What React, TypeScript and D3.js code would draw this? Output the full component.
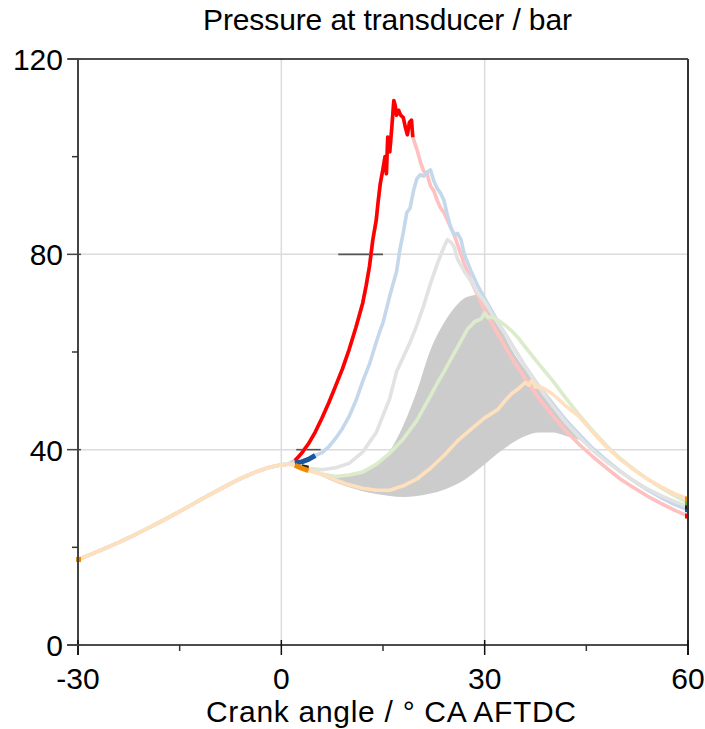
import React from "react";
import * as d3 from "d3";

const W = 705;
const H = 729;

// Axis configuration
const xDomain: [number, number] = [-30, 60];
const yDomain: [number, number] = [0, 120];
const xTicks = [-30, 0, 30, 60];
const xMinorTicks = [-15, 15, 45];
const yTicks = [0, 40, 80, 120];
const yMinorTicks = [20, 60, 100];
const gridX = [0, 30];
const gridY = [40, 80];

// Shared compression stroke (crank angle °, pressure bar)
const compression: [number, number][] = [
  [-30, 17.5], [-28, 18.6], [-26, 19.8], [-24, 21.0], [-22, 22.3], [-20, 23.7],
  [-18, 25.1], [-16, 26.6], [-14, 28.1], [-12, 29.7], [-10, 31.2], [-8, 32.7],
  [-6, 34.1], [-4, 35.3], [-2, 36.3], [0, 36.9], [1, 37.0],
];

// Cycle-to-cycle envelope (grey band)
const bandAngles = [2, 4, 6, 8, 10, 12, 14, 16, 18, 20, 22, 24, 26, 27, 28, 29, 30, 31, 32, 34, 36, 38, 40, 42, 44, 45, 46];
const bandLow = [37, 36, 34.5, 33.3, 32.3, 31.5, 30.9, 30.5, 30.3, 30.5, 31, 31.8, 33, 33.8, 34.8, 35.9, 37, 38.2, 39.3, 41.3, 42.8, 43.5, 43.5, 42.8, 42, 41.4, 40.6];
const bandHigh = [37, 36.2, 35.2, 34.8, 35, 35.8, 37.2, 39.8, 45, 52, 60.4, 66, 69.8, 71, 71.5, 71.8, 71, 68.5, 65.8, 60.5, 56.3, 52.6, 49.6, 46.5, 43.5, 42, 40.6];

// Individual cycles after 2° CA
const redTrace: [number, number][] = [
  [2, 37.8], [2.5, 38.5], [3, 39.3], [4, 41.2], [5, 43.6], [6, 46.5], [7, 49.6], [8, 53], [9, 56.5],
  [10, 60.5], [11, 65], [12, 70], [12.5, 73.5], [13, 77.5], [13.5, 83], [14, 87], [14.3, 91],
  [14.6, 94.5], [15, 97.5], [15.3, 100], [15.5, 96.5], [15.7, 104], [16, 101], [16.3, 106],
  [16.6, 111.5], [16.8, 110.5], [17, 108.5], [17.3, 109.5], [17.6, 108.5], [18, 108], [18.3, 106],
  [18.6, 104.5], [18.9, 107], [19.2, 107.5], [19.4, 104], [20, 101.5], [20.5, 99], [21, 97],
  [21.5, 96.5], [22, 94], [22.5, 93], [23, 91], [23.5, 89.5], [24, 88.5], [24.5, 87], [25, 85.5],
  [25.5, 84], [26, 82], [27, 78], [28, 74.5], [29, 71.5], [30, 68.5], [31, 66], [32, 63.5],
  [34, 58.7], [36, 54.5], [38, 50.5], [40, 47], [42, 43.8], [44, 41], [46, 38.5], [48, 36.2],
  [50, 34], [52, 32.2], [54, 30.5], [56, 29], [58, 27.6], [60, 26.4],
];

const blueTrace: [number, number][] = [
  [2, 37.3], [3, 37.5], [4, 38], [5, 38.8], [6, 39.4], [7, 40.6], [8, 42.3], [9, 44.3], [10, 46.8],
  [11, 50], [12, 54], [13, 57.5], [14, 62], [14.6, 64.5], [15, 66], [16, 71.5], [17, 76.5],
  [17.5, 81], [18, 84.5], [18.5, 88.5], [19, 89.5], [19.5, 93], [20, 95.5], [20.5, 96.3],
  [21, 96], [21.5, 96.8], [22, 97.3], [22.5, 95], [23, 93.5], [23.5, 92.5], [24, 91], [24.5, 88],
  [25, 85.5], [25.5, 84], [26, 84.3], [26.5, 83], [27, 80], [28, 76.5], [29, 73.5], [30, 71],
  [31, 68.5], [32, 66], [34, 61.5], [36, 57], [38, 53], [40, 49.5], [42, 46], [44, 43],
  [46, 40.2], [48, 37.8], [50, 35.6], [52, 33.6], [54, 31.8], [56, 30.2], [58, 28.8], [60, 27.7],
];

const greyTrace: [number, number][] = [
  [2, 37.1], [3, 36.5], [4, 36.2], [6, 35.9], [8, 36.3], [10, 37.2], [12, 39.5], [14, 43.5],
  [16, 50.5], [17, 56], [18, 59], [19, 62], [20, 65.5], [21, 69.5], [22, 74], [23, 78], [24, 81.5],
  [24.5, 83], [25, 82.5], [25.5, 81.5], [26, 79], [27, 76.5], [28, 74.5], [29, 72], [30, 70.3],
  [31, 68], [32, 65.8], [33, 63.8], [34, 61.5], [36, 57], [38, 52.8], [40, 49], [42, 45.5],
  [44, 42.5], [46, 39.8], [48, 37.5], [50, 35.5], [52, 33.6], [54, 32], [56, 30.6], [58, 29.4],
  [60, 28.3],
];

const greenTrace: [number, number][] = [
  [2, 37.0], [4, 36], [6, 35], [8, 34.5], [10, 34.8], [12, 35.4], [14, 37], [16, 39.3], [18, 42.2],
  [20, 46], [22, 51], [23, 53.6], [24, 56], [25, 58.5], [26, 61], [27, 63.5], [27.5, 64.8],
  [28, 65.4], [28.5, 66.2], [29, 66.5], [29.5, 66.8], [30, 68], [30.5, 67], [31, 67.2], [32, 66.5],
  [33, 65.5], [34, 64.3], [35, 62.8], [36, 61], [38, 57.5], [40, 54.2], [42, 50.5], [44, 47],
  [46, 43.8], [48, 40.8], [50, 38.2], [52, 36], [54, 34], [56, 32.2], [58, 30.6], [60, 29.1],
];

const peachTrace: [number, number][] = [
  [2, 36.8], [3, 36.2], [4, 35.7], [6, 34.9], [8, 33.8], [10, 32.8], [12, 32.1], [14, 31.7],
  [16, 31.7], [18, 32.6], [20, 34], [22, 36.2], [24, 38.8], [26, 41.8], [28, 44.2], [30, 46.5],
  [32, 48.3], [33, 50], [34, 51.5], [35, 52.5], [36, 53.8], [36.5, 53.2], [37, 54.2], [37.5, 52.8],
  [38, 53], [39, 52.3], [40, 51.4], [41, 50.2], [42, 48.9], [44, 46.7], [46, 43.5], [48, 40.5],
  [50, 38], [52, 35.9], [54, 34], [56, 32.4], [58, 31], [60, 29.9],
];

// Reference bars (crank angle span at a given pressure level)
const levelBars = [
  { p: 40, from: 2.2, to: 5.8 },
  { p: 80, from: 8.4, to: 15.0 },
];

type Series = {
  trace: [number, number][];
  pale: string;
  dark: string;
  highlight: [number, number] | null;
  startMark: boolean;
};

const series: Series[] = [
  { trace: redTrace, pale: "#ffc0c0", dark: "#ff0000", highlight: [2, 19.4], startMark: false },
  { trace: blueTrace, pale: "#c5d8eb", dark: "#1a569c", highlight: [1.8, 5], startMark: false },
  { trace: greyTrace, pale: "#e2e2e2", dark: "#222222", highlight: [3, 4.7], startMark: false },
  { trace: greenTrace, pale: "#dcebcb", dark: "#66b032", highlight: null, startMark: false },
  { trace: peachTrace, pale: "#ffe0be", dark: "#f08a00", highlight: [2, 4.3], startMark: true },
];

export default function App() {
  const x = d3.scaleLinear().domain(xDomain).range([78, 688]);
  const y = d3.scaleLinear().domain(yDomain).range([645, 59]);

  const line = d3
    .line<[number, number]>()
    .x((d) => x(d[0]))
    .y((d) => y(d[1]))
    .curve(d3.curveLinear);

  const area = d3
    .area<number>()
    .x((_, i) => x(bandAngles[i]))
    .y0((_, i) => y(bandLow[i]))
    .y1((_, i) => y(bandHigh[i]))
    .curve(d3.curveMonotoneX);

  const full = (s: Series) => [...compression, ...s.trace] as [number, number][];
  const font = "'Liberation Sans', Arial, sans-serif";
  const [x0, x1] = x.range();
  const [yb, yt] = y.range();

  return (
    <svg
      width={W}
      height={H}
      style={{ position: "absolute", left: 0, top: 0, background: "#fff" }}
      fontFamily={font}
    >
      {/* grid */}
      {gridX.map((v) => (
        <line key={"gx" + v} x1={x(v)} x2={x(v)} y1={yt} y2={yb} stroke="#dcdcdc" strokeWidth={1.5} />
      ))}
      {gridY.map((v) => (
        <line key={"gy" + v} x1={x0} x2={x1} y1={y(v)} y2={y(v)} stroke="#dcdcdc" strokeWidth={1.5} />
      ))}

      {/* envelope */}
      <path d={area(bandAngles) || ""} fill="#cccccc" />

      {/* level bars */}
      {levelBars.map((b) => (
        <line key={"lb" + b.p} x1={x(b.from)} x2={x(b.to)} y1={y(b.p)} y2={y(b.p)} stroke="#555" strokeWidth={1.6} />
      ))}

      {/* pale cycles, drawn back to front */}
      {series.map((s, i) => (
        <path key={"pale" + i} d={line(full(s)) || ""} fill="none" stroke={s.pale} strokeWidth={3.6} strokeLinejoin="round" />
      ))}

      {/* highlighted segments */}
      {series.map((s, i) => {
        if (!s.highlight) return null;
        const [a, b] = s.highlight;
        const seg = s.trace.filter((d) => d[0] >= a && d[0] <= b);
        const w = i === 0 ? 3.6 : 5;
        return (
          <path key={"hl" + i} d={line(seg) || ""} fill="none" stroke={s.dark} strokeWidth={w} strokeLinejoin="round" />
        );
      })}

      {/* end and start markers */}
      {series.map((s, i) => {
        const last = s.trace[s.trace.length - 1];
        return (
          <rect key={"em" + i} x={x(last[0]) - 3} y={y(last[1]) - 2.5} width={4} height={5} fill={s.dark} />
        );
      })}
      {series
        .filter((s) => s.startMark)
        .map((s, i) => (
          <rect key={"sm" + i} x={x(compression[0][0]) - 2} y={y(compression[0][1]) - 2.5} width={5} height={5} fill={s.dark} />
        ))}

      {/* frame */}
      <line x1={x0 - 10} x2={x1} y1={yt} y2={yt} stroke="#111" strokeWidth={1.5} />
      <line x1={x1} x2={x1} y1={yt} y2={yb + 10} stroke="#333" strokeWidth={2} />
      <line x1={x0 - 11} x2={x1} y1={yb} y2={yb} stroke="#111" strokeWidth={1.5} />
      <line x1={x0} x2={x0} y1={yt} y2={yb + 10} stroke="#444" strokeWidth={2} />

      {/* x ticks */}
      {xTicks.map((v) => (
        <g key={"xt" + v}>
          <line x1={x(v)} x2={x(v)} y1={yb - 5} y2={yb + 10} stroke="#111" strokeWidth={1.5} />
          <text x={x(v)} y={689} textAnchor="middle" fontSize={30} fill="#000">
            {v}
          </text>
        </g>
      ))}
      {xMinorTicks.map((v) => (
        <line key={"xm" + v} x1={x(v)} x2={x(v)} y1={yb} y2={yb + 6} stroke="#333" strokeWidth={1.5} />
      ))}

      {/* y ticks */}
      {yTicks.map((v) => (
        <g key={"yt" + v}>
          <line x1={x0 - 11} x2={x0 + 3} y1={y(v)} y2={y(v)} stroke="#444" strokeWidth={1.5} />
          <text x={63} y={y(v) + 11} textAnchor="end" fontSize={30} fill="#000">
            {v}
          </text>
        </g>
      ))}
      {yMinorTicks.map((v) => (
        <line key={"ym" + v} x1={x0 - 6} x2={x0} y1={y(v)} y2={y(v)} stroke="#333" strokeWidth={1.5} />
      ))}

      {/* titles */}
      <text x={387.5} y={30} textAnchor="middle" fontSize={30} fill="#000" textLength={369} lengthAdjust="spacing">
        Pressure at transducer / bar
      </text>
      <text x={391} y={722} textAnchor="middle" fontSize={30} fill="#000" textLength={370} lengthAdjust="spacing">
        Crank angle / ° CA AFTDC
      </text>
    </svg>
  );
}
